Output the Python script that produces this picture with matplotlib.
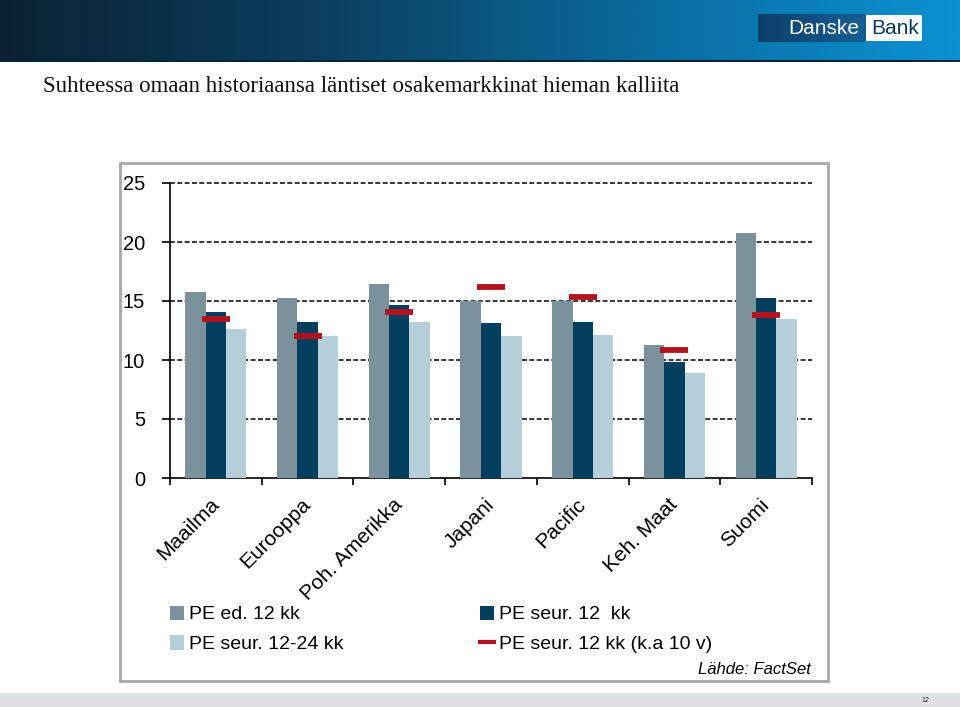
import numpy as np
import matplotlib
matplotlib.use("Agg")
import matplotlib.pyplot as plt
from matplotlib.patches import Rectangle, Patch
from matplotlib.lines import Line2D
from matplotlib.colors import LinearSegmentedColormap

plt.rcParams['font.family'] = ['Liberation Sans', 'DejaVu Sans']

categories = ["Maailma", "Eurooppa", "Poh. Amerikka", "Japani", "Pacific", "Keh. Maat", "Suomi"]
pe_prev_12m = [15.8, 15.25, 16.4, 15.0, 15.0, 11.3, 20.8]
pe_next_12m = [14.1, 13.25, 14.65, 13.1, 13.25, 9.85, 15.25]
pe_next_12_24m = [12.65, 12.0, 13.25, 12.0, 12.1, 8.9, 13.5]
pe_next_12m_avg10y = [13.5, 12.0, 14.1, 16.2, 15.35, 10.85, 13.8]
yticks = [0, 5, 10, 15, 20, 25]
series_labels = ["PE ed. 12 kk", "PE seur. 12-24 kk", "PE seur. 12  kk", "PE seur. 12 kk (k.a 10 v)"]

c_grey = "#7a929c"
c_dark = "#023f5f"
c_light = "#b5cfda"
c_red = "#b5121f"

W, H = 960, 707
fig = plt.figure(figsize=(W / 100, H / 100), dpi=100)

def fx(px):
    return px / W

def fy(py):
    return 1 - py / H

# chart frame
fig.patches.append(Rectangle((fx(120), fy(681)), fx(828) - fx(120), (681 - 163) / H,
                             transform=fig.transFigure, facecolor="white",
                             edgecolor="#a8a8a8", lw=2, zorder=-2))

# footer band
fig.patches.append(Rectangle((0, 0), 1, (707 - 693) / H, transform=fig.transFigure,
                             facecolor="#dce2e5", edgecolor="none", zorder=-2))
fig.text(fx(925), fy(701), "12", fontsize=5, color="#333333", ha="center", va="center")

# header gradient bar
hax = fig.add_axes([0, fy(62), 1, 62 / H])
grad = np.linspace(0, 1, 512).reshape(1, -1)
cmap = LinearSegmentedColormap.from_list("hdr", ["#0a2133", "#0b3f5e", "#0a6a9c", "#0a92d2"])
hax.imshow(grad, aspect="auto", cmap=cmap, extent=[0, 1, 0, 1])
hax.axhline(0.02, color="#06263a", lw=1.5)
hax.set_axis_off()

# logo
lax = fig.add_axes([fx(758), fy(42), fx(923) - fx(758), (42 - 14) / H])
lax.imshow(np.linspace(0, 1, 256).reshape(1, -1), aspect="auto",
           cmap=LinearSegmentedColormap.from_list("lg", ["#0c3f68", "#155f94"]),
           extent=[758, 866, 0, 1])
lax.add_patch(Rectangle((866, 0.04), 56, 0.92, facecolor="white", edgecolor="none"))
lax.text(859, 0.47, "Danske", color="white", fontsize=15, ha="right", va="center")
lax.text(895, 0.47, "Bank", color="#0b3a63", fontsize=15, ha="center", va="center")
lax.set_xlim(758, 923)
lax.set_ylim(0, 1)
lax.set_axis_off()

# title
fig.text(fx(43), fy(87), "Suhteessa omaan historiaansa läntiset osakemarkkinat hieman kalliita",
         fontsize=16.5, family=["Liberation Serif", "DejaVu Serif"], va="center", ha="left",
         color="#111111")

# main axes
ax = fig.add_axes([fx(170), fy(478), fx(812) - fx(170), (478 - 183) / H])
ax.patch.set_alpha(0)
x = np.arange(len(categories))
bw = 0.222
ax.bar(x - bw, pe_prev_12m, bw, color=c_grey, zorder=3)
ax.bar(x, pe_next_12m, bw, color=c_dark, zorder=3)
ax.bar(x + bw, pe_next_12_24m, bw, color=c_light, zorder=3)
ax.plot(x, pe_next_12m_avg10y, ls="none", marker="_", ms=20.5, mew=4.2, color=c_red, zorder=4)

ax.set_xlim(-0.5, len(categories) - 0.5)
ax.set_ylim(0, 25)
ax.set_yticks(yticks)
ax.set_yticklabels([str(v) for v in yticks], fontsize=14.5)
for v in yticks[1:]:
    ax.axhline(v, color="black", lw=1.1, ls=(0, (3.2, 1.6)), zorder=1, clip_on=False)

ax.set_xticks(np.arange(-0.5, len(categories), 1.0))
ax.set_xticklabels([])
ax.set_xticks(x, minor=True)
ax.set_xticklabels(categories, minor=True, rotation=45, ha="right", rotation_mode="anchor",
                   va="center", fontsize=15)
ax.tick_params(axis="x", which="major", direction="out", length=5, width=1.2)
ax.tick_params(axis="x", which="minor", length=0, pad=17)
ax.tick_params(axis="y", direction="out", length=6, width=1.2, pad=12)

for s in ["top", "right"]:
    ax.spines[s].set_visible(False)
ax.spines["left"].set_linewidth(1.2)
ax.spines["bottom"].set_linewidth(1.2)

handles = [Patch(facecolor=c_grey), Patch(facecolor=c_light),
           Patch(facecolor=c_dark), Line2D([], [], color=c_red, lw=3)]
fig.legend(handles, series_labels, ncol=2, loc="upper left",
           bbox_to_anchor=(fx(152), fy(588)), frameon=False, fontsize=14,
           handlelength=0.75, handleheight=0.75, handletextpad=0.25,
           columnspacing=7.0, labelspacing=0.62)

fig.text(fx(811), fy(670), "Lähde: FactSet", fontsize=12, style="italic", ha="right", va="center")

fig.savefig("out.png", dpi=100)
